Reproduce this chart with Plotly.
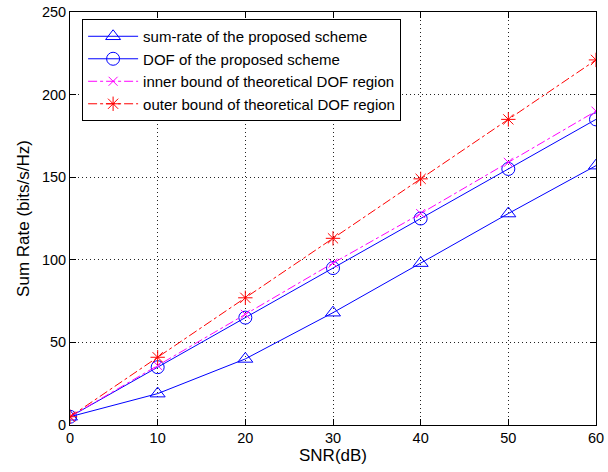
import plotly.graph_objects as go

snr = [0, 10, 20, 30, 40, 50, 60]
sum_rate = [5, 19, 40, 68, 98, 128, 157]
dof = [5, 35, 65, 95, 125, 155, 185]
inner = [5, 36, 67, 98, 128, 159, 190]
outer = [5, 41, 77, 113, 149, 185, 221]
y_ticks = [0, 50, 100, 150, 200, 250]

names = ["sum-rate of the proposed scheme", "DOF of the proposed scheme",
         "inner bound of theoretical DOF region", "outer bound of theoretical DOF region"]

fig = go.Figure()
fig.add_trace(go.Scatter(x=snr, y=sum_rate, name=names[0], mode="lines+markers",
                         line=dict(color="#0000ff", width=1),
                         marker=dict(symbol="triangle-up-open", size=13, color="#0000ff", line=dict(width=1))))
fig.add_trace(go.Scatter(x=snr, y=dof, name=names[1], mode="lines+markers",
                         line=dict(color="#0000ff", width=1),
                         marker=dict(symbol="circle-open", size=13, color="#0000ff", line=dict(width=1))))
fig.add_trace(go.Scatter(x=snr, y=inner, name=names[2], mode="lines+markers",
                         line=dict(color="#ff00ff", width=1, dash="dashdot"),
                         marker=dict(symbol="x-thin-open", size=9, color="#ff00ff", line=dict(width=1, color="#ff00ff"))))
fig.add_trace(go.Scatter(x=snr, y=outer, name=names[3], mode="lines+markers",
                         line=dict(color="#ff0000", width=1, dash="dashdot"),
                         marker=dict(symbol="asterisk-open", size=12, color="#ff0000", line=dict(width=1, color="#ff0000"))))

axis_common = dict(showline=True, linecolor="black", linewidth=1, mirror="ticks",
                   ticks="inside", ticklen=6, tickcolor="black", automargin=False,
                   ticklabeloverflow="allow",
                   showgrid=True, gridcolor="#222222", gridwidth=1, griddash="1px,3px",
                   zeroline=False, tickfont=dict(size=14.5, color="black"))

fig.update_layout(
    width=608, height=472,
    margin=dict(l=70, r=12, t=12, b=47),
    paper_bgcolor="white", plot_bgcolor="white",
    font=dict(family="Liberation Sans, Arial, sans-serif", size=14.5, color="black"),
    xaxis=dict(range=[0, 60], tickvals=snr, title=dict(text="SNR(dB)", standoff=3), **axis_common),
    yaxis=dict(range=[0, 250], tickvals=y_ticks,
               title=dict(text="Sum Rate (bits/s/Hz)", standoff=7), **axis_common),
    legend=dict(x=0.023, y=0.983, xanchor="left", yanchor="top",
                bgcolor="white", bordercolor="black", borderwidth=1,
                font=dict(size=15), tracegroupgap=0, itemwidth=50),
    showlegend=True,
)

fig.write_html("out.html", config={"displayModeBar": False},
               post_script="document.body.style.margin='0';document.body.style.overflow='hidden';")
